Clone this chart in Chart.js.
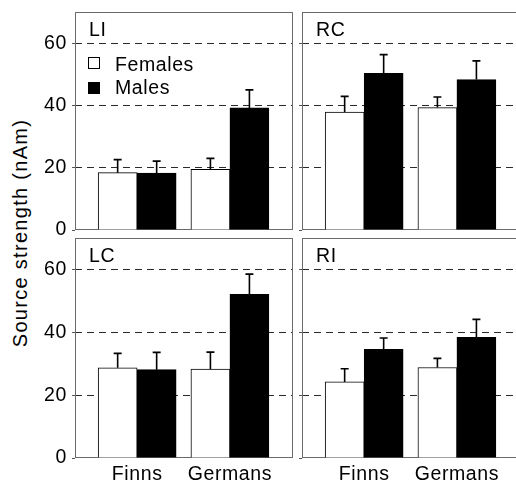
<!DOCTYPE html>
<html>
<head>
<meta charset="utf-8">
<script src="https://cdn.jsdelivr.net/npm/chart.js@4.4.0/dist/chart.umd.min.js"></script>
<style>
  body { margin: 0; background: #fff; width: 516px; height: 482px; overflow: hidden; position: relative; }
  canvas { position: absolute; }
  #yTitle {
    position: absolute; left: 20px; top: 233px;
    transform: translate(-50%, -50%) rotate(-90deg);
    font: 20px "Liberation Sans", Arial, sans-serif; line-height: 1;
    letter-spacing: 1.3px; white-space: nowrap; color: #000;
  }
</style>
</head>
<body>
<div id="yTitle">Source strength (nAm)</div>
<canvas id="li" style="left:0;top:0"></canvas>
<canvas id="rc" style="left:296px;top:0"></canvas>
<canvas id="lc" style="left:0;top:234px"></canvas>
<canvas id="ri" style="left:296px;top:234px"></canvas>
<script>
const groups = ['Finns', 'Germans'];
const yTicks = [0, 20, 40, 60];
const legendLabels = ['Females', 'Males'];

// mean source strength, nAm (Finns, Germans)
const liFemales = [18.4, 19.5];
const liMales = [18.3, 39.2];
const liFemalesErr = [4.2, 3.5];
const liMalesErr = [3.8, 5.8];

const rcFemales = [37.9, 39.3];
const rcMales = [50.3, 48.3];
const rcFemalesErr = [5.0, 3.4];
const rcMalesErr = [6.0, 6.0];

const lcFemales = [28.7, 28.3];
const lcMales = [28.1, 52.1];
const lcFemalesErr = [4.6, 5.4];
const lcMalesErr = [5.5, 6.4];

const riFemales = [24.2, 28.8];
const riMales = [34.6, 38.4];
const riFemalesErr = [4.2, 2.9];
const riMalesErr = [3.6, 5.7];

const FONT = { family: '"Liberation Sans", Arial, sans-serif', size: 19.5 };
const fontStr = '19.5px "Liberation Sans", Arial, sans-serif';
const SPACING = '0.6px';

const boxPlugin = {
  id: 'box',
  beforeDraw(chart) {
    chart.ctx.letterSpacing = SPACING;
  },
  beforeDatasetsDraw(chart) {
    const { ctx, chartArea: a } = chart;
    ctx.save();
    ctx.strokeStyle = '#6a6a6a';
    ctx.lineWidth = 1;
    ctx.strokeRect(Math.round(a.left) + 0.5, Math.round(a.top) + 0.5,
      Math.round(a.right - a.left) - 1, Math.round(a.bottom - a.top) - 1);
    ctx.restore();
  }
};

const errorBarPlugin = {
  id: 'errorBars',
  afterDatasetsDraw(chart) {
    const { ctx } = chart;
    const y = chart.scales.y;
    ctx.save();
    ctx.strokeStyle = '#000';
    ctx.lineWidth = 1.6;
    chart.data.datasets.forEach((ds, i) => {
      const meta = chart.getDatasetMeta(i);
      meta.data.forEach((bar, j) => {
        const top = y.getPixelForValue(ds.data[j].y + ds.errors[j]);
        ctx.beginPath();
        ctx.moveTo(bar.x, bar.y);
        ctx.lineTo(bar.x, top);
        ctx.moveTo(bar.x - 4, top);
        ctx.lineTo(bar.x + 4, top);
        ctx.stroke();
      });
    });
    ctx.restore();
  }
};

const labelPlugin = {
  id: 'panelLabel',
  afterDraw(chart, args, opts) {
    const { ctx, chartArea: a } = chart;
    ctx.save();
    ctx.font = fontStr;
    ctx.letterSpacing = SPACING;
    ctx.fillStyle = '#000';
    ctx.textBaseline = 'alphabetic';
    ctx.fillText(opts.text, a.left + 14, a.top + 24);
    if (opts.legend) {
      ctx.lineWidth = 1;
      ctx.strokeStyle = '#000';
      ctx.fillStyle = '#fff';
      ctx.fillRect(a.left + 13.5, a.top + 45.5, 11, 11);
      ctx.strokeRect(a.left + 13.5, a.top + 45.5, 11, 11);
      ctx.fillStyle = '#000';
      ctx.fillRect(a.left + 13, a.top + 70, 12, 12);
      ctx.fillText(legendLabels[0], a.left + 40, a.top + 59);
      ctx.fillText(legendLabels[1], a.left + 40, a.top + 82);
    }
    ctx.restore();
  }
};

function makePanel (id, label, females, males, femalesErr, malesErr, opt) {
  const canvas = document.getElementById(id);
  canvas.width = opt.width;
  canvas.height = opt.height;
  return new Chart(canvas, {
    type: 'bar',
    data: {
      datasets: [{
        label: legendLabels[0],
        data: females.map((v, i) => ({ x: i + 1, y: v })),
        errors: femalesErr,
        backgroundColor: '#fff',
        borderColor: '#000',
        borderWidth: 1,
        barThickness: 39
      }, {
        label: legendLabels[1],
        data: males.map((v, i) => ({ x: i + 1, y: v })),
        errors: malesErr,
        backgroundColor: '#000',
        borderColor: '#000',
        borderWidth: 1,
        barThickness: 39
      }]
    },
    options: {
      responsive: false,
      animation: false,
      events: [],
      layout: { padding: opt.padding },
      plugins: {
        legend: { display: false },
        tooltip: { enabled: false },
        panelLabel: { text: label, legend: opt.legend }
      },
      scales: {
        x: {
          type: 'linear',
          min: 0.33,
          max: 2.68,
          offset: false,
          bounds: 'data',
          display: opt.xLabels,
          grid: { display: false, offset: false },
          border: { display: false },
          ticks: {
            font: FONT,
            color: '#000',
            padding: -3,
            callback: (v) => groups[v - 1]
          },
          afterBuildTicks: (s) => { s.ticks = groups.map((g, i) => ({ value: i + 1 })); },
          afterFit: (s) => { s.height = opt.xLabels ? 24 : 0; s.paddingLeft = 0; s.paddingRight = 0; }
        },
        y: {
          min: 0,
          max: 70,
          grid: {
            color: (c) => (c.tick && c.tick.value > 0 && c.tick.value < 70) ? '#2a2a2a' : 'rgba(0,0,0,0)',
            tickColor: '#555',
            tickLength: 3,
            lineWidth: 1
          },
          border: { display: false, dash: [7, 5] },
          ticks: {
            display: opt.yLabels,
            font: FONT,
            color: '#000',
            padding: 5
          },
          afterBuildTicks: (s) => { s.ticks = yTicks.map(v => ({ value: v })); },
          afterFit: (s) => { s.width = opt.yWidth; s.paddingTop = 0; s.paddingBottom = 0; }
        }
      }
    },
    plugins: [boxPlugin, errorBarPlugin, labelPlugin]
  });
}

makePanel('li', 'LI', liFemales, liMales, liFemalesErr, liMalesErr,
  { width: 300, height: 242, padding: { left: 0, right: 7, top: 12, bottom: 12 }, xLabels: false, yLabels: true, yWidth: 75, legend: true });
makePanel('rc', 'RC', rcFemales, rcMales, rcFemalesErr, rcMalesErr,
  { width: 230, height: 242, padding: { left: 0, right: 6, top: 12, bottom: 12 }, xLabels: false, yLabels: false, yWidth: 6, legend: false });
makePanel('lc', 'LC', lcFemales, lcMales, lcFemalesErr, lcMalesErr,
  { width: 300, height: 248, padding: { left: 0, right: 7, top: 4, bottom: 0 }, xLabels: true, yLabels: true, yWidth: 75, legend: false });
makePanel('ri', 'RI', riFemales, riMales, riFemalesErr, riMalesErr,
  { width: 230, height: 248, padding: { left: 0, right: 6, top: 4, bottom: 0 }, xLabels: true, yLabels: false, yWidth: 6, legend: false });
</script>
</body>
</html>
